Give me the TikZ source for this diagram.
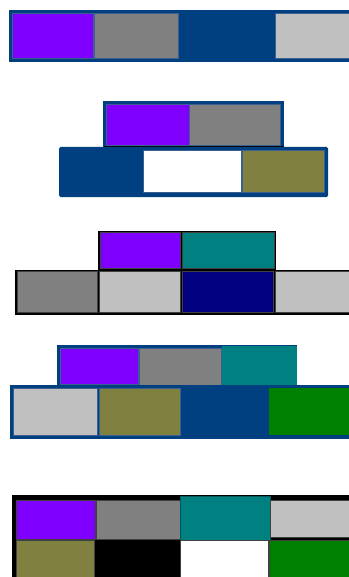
\documentclass[tikz,border=0pt]{standalone}
\usepackage{tikz}

\definecolor{purp}{HTML}{8000FF}
\definecolor{midgray}{HTML}{808080}
\definecolor{framebl}{HTML}{004080}
\definecolor{edgebl}{HTML}{3A6090}
\definecolor{ltgray}{HTML}{C0C0C0}
\definecolor{olivec}{HTML}{808040}
\definecolor{tealc}{HTML}{008080}
\definecolor{navyc}{HTML}{000080}
\definecolor{greenc}{HTML}{008000}

\begin{document}
\begin{tikzpicture}[x=1pt,y=-1pt,
  cellb/.style={draw=edgebl,line width=0.5pt},
  cellk/.style={draw=black!75,line width=0.5pt}]
\useasboundingbox (0,0) rectangle (348,577);
% first row
\fill[framebl] (9,10) rectangle (352,62);
\filldraw[purp,cellb] (12.5,13.5) rectangle (93.5,58.5);
\filldraw[fill=midgray,cellb] (94.5,13.5) rectangle (178,58.5);
\filldraw[fill=ltgray,cellb] (275,13.5) rectangle (352,58.5);
% second block
\fill[framebl] (103,101) rectangle (284,147);
\filldraw[fill=purp,cellb] (106.5,104.5) rectangle (189,145);
\filldraw[fill=midgray,cellb] (189,104.5) rectangle (280,145);
\draw[line width=1.2pt] (104,146.2) -- (284,146.2);
\fill[framebl,rounded corners=1.5pt] (59,147) rectangle (328,197);
\filldraw[fill=white,cellb] (143,150.5) rectangle (241.5,192);
\filldraw[fill=olivec,cellb] (242,150.5) rectangle (324,192);
% third block
\fill[black] (98,230.5) rectangle (276,270.5);
\filldraw[fill=purp,cellk] (100.5,232.5) rectangle (180.5,268.5);
\filldraw[fill=tealc,cellk] (182,232.5) rectangle (274,268.5);
\fill[black] (15,269.5) rectangle (352,315);
\filldraw[fill=midgray,cellk] (16.8,271.5) rectangle (97,312.5);
\filldraw[fill=ltgray,cellk] (99,271.5) rectangle (180,312.5);
\filldraw[fill=navyc,cellk] (182,271.5) rectangle (273.5,312.5);
\filldraw[fill=ltgray,cellk] (275.5,271.5) rectangle (352,312.5);
% fourth block
\fill[framebl] (57,345.3) rectangle (296.7,386);
\filldraw[fill=purp,cellb] (60,348.3) rectangle (138.5,384.3);
\filldraw[fill=midgray,cellb] (139.3,348.3) rectangle (221.7,385.5);
\fill[tealc] (221.7,345.8) rectangle (296.7,386);
\fill[framebl] (10,385.3) rectangle (352,438.5);
\filldraw[fill=ltgray,cellb] (13.3,388.3) rectangle (97.7,435);
\filldraw[fill=olivec,cellb] (98.8,388.3) rectangle (180.7,435);
\fill[greenc] (269.3,388.3) rectangle (352,435);
% fifth block
\fill[black] (12.3,495) rectangle (352,580);
\filldraw[fill=purp,cellk] (16.7,500) rectangle (95,539.3);
\filldraw[fill=midgray,cellk] (96,500) rectangle (180,539.3);
\filldraw[fill=tealc,draw=tealc!70!black,line width=0.5pt] (180.7,496) rectangle (270,540);
\filldraw[fill=ltgray,cellk] (270.5,500) rectangle (352,537.3);
\filldraw[fill=olivec,cellk] (16.7,540.5) rectangle (94.7,580);
\filldraw[fill=white,cellk] (180.7,540.7) rectangle (268.3,580);
\filldraw[fill=greenc,cellk] (269.3,540.7) rectangle (352,580);
\end{tikzpicture}
\end{document}
